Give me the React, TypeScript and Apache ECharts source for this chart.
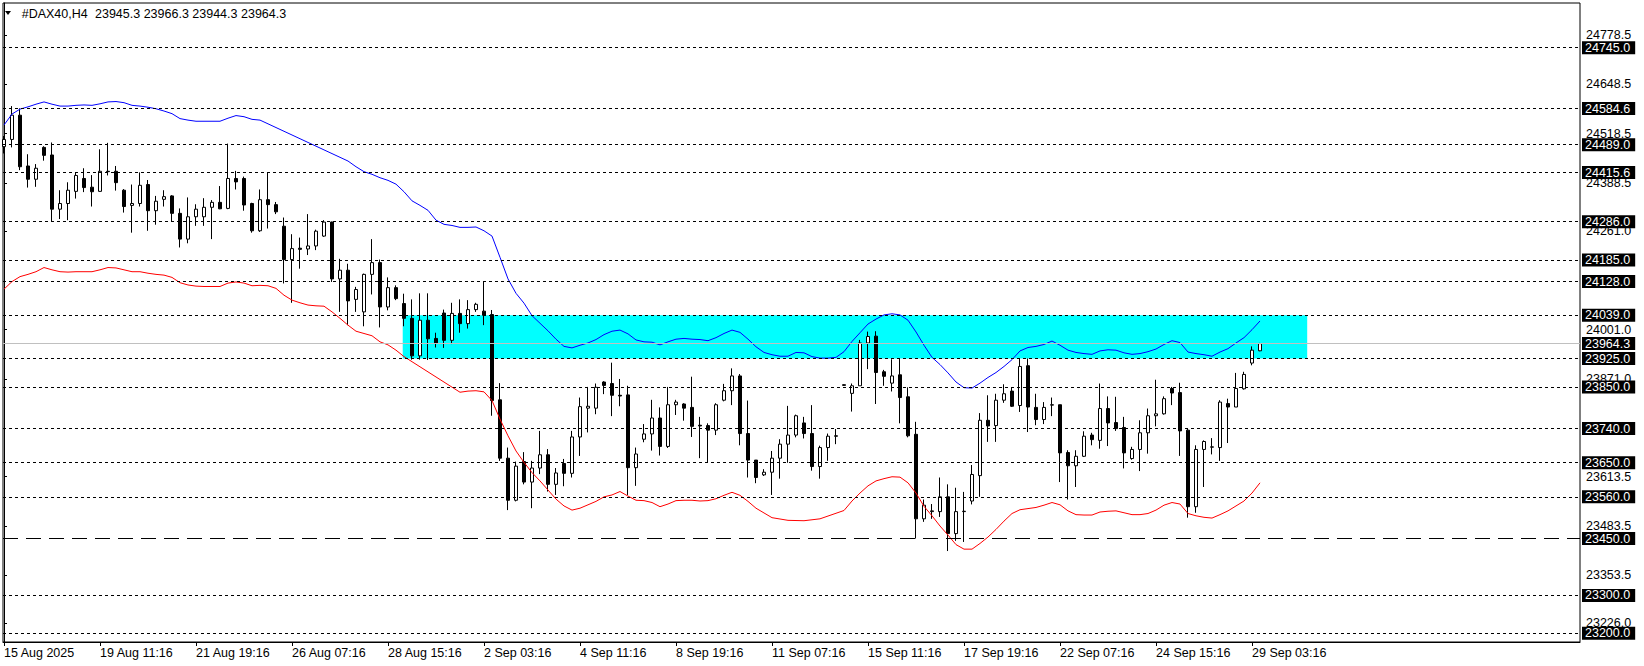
import React, { useEffect, useRef } from "react";
import * as echarts from "echarts";

const symbolName = "#DAX40,H4";

// OHLC of the H4 candles, oldest first (index 0 = 15 Aug 2025)
const opens = [24484,24503,24567,24433,24398,24482,24462,24319,24334,24366,
24400,24377,24366,24419,24419,24369,24329,24334,24384,24315,
24345,24354,24308,24240,24299,24299,24324,24337,24321,24400,
24400,24334,24262,24344,24331,24274,24186,24216,24214,24222,
24248,24285,24135,24158,24081,24048,24147,24178,24061,24112,
24070,24031,23932,24026,23978,24045,23973,24044,24017,24054,
24050,24041,23816,23662,23551,23653,23599,23636,23671,23593,
23648,23622,23718,23794,23794,23863,23859,23828,23829,23637,
23712,23726,23768,23693,23803,23805,23796,23749,23748,23736,
23815,23840,23879,23727,23657,23618,23625,23662,23699,23723,
23755,23727,23640,23690,23721,23854,23833,23853,23966,23984,
23890,23860,23882,23824,23725,23502,23521,23521,23560,23463,
23521,23549,23616,23762,23748,23815,23839,23801,23906,23796,
23764,23802,23803,23677,23642,23667,23723,23709,23793,23756,
23743,23661,23685,23729,23774,23779,23846,23835,23736,23534,
23685,23691,23690,23806,23797,23845,23913,23945.3];

const highs = [24512,24591,24585,24464,24438,24485,24495,24369,24390,24417,
24427,24409,24477,24494,24433,24372,24384,24416,24396,24354,
24369,24356,24321,24350,24332,24348,24343,24380,24492,24420,
24405,24336,24371,24416,24338,24297,24253,24244,24306,24265,
24290,24286,24188,24175,24114,24149,24240,24186,24139,24118,
24096,24081,24097,24097,23993,24054,24072,24081,24079,24072,
24127,24053,23860,23690,23653,23678,23655,23734,23686,23636,
23660,23734,23822,23850,23859,23865,23914,23871,23853,23690,
23752,23816,23796,23850,23816,23807,23877,23771,23754,23807,
23858,23899,23884,23814,23657,23633,23681,23712,23800,23777,
23771,23802,23695,23727,23739,23857,23859,23974,23996,23997,
23895,23923,23926,23849,23758,23553,23541,23611,23593,23584,
23573,23644,23781,23828,23832,23857,23848,23925,23925,23832,
23810,23822,23803,23683,23683,23733,23729,23859,23825,23824,
23771,23692,23762,23793,23869,23825,23850,23861,23740,23696,
23709,23715,23815,23819,23887,23890,23957,23966.3];

const lows = [24466,24482,24422,24376,24378,24447,24286,24293,24290,24347,
24364,24326,24365,24408,24368,24310,24257,24326,24262,24278,
24326,24286,24218,24229,24275,24275,24240,24319,24319,24371,
24315,24257,24259,24268,24306,24123,24072,24162,24198,24211,
24246,24127,24048,24013,24048,24010,24094,24007,24052,24079,
24010,23922,23922,23921,23954,23953,23963,23993,24004,24048,
24013,23774,23655,23525,23548,23593,23530,23620,23574,23565,
23588,23611,23668,23730,23778,23831,23773,23799,23565,23589,
23704,23682,23669,23689,23776,23761,23718,23662,23650,23723,
23812,23802,23696,23611,23596,23615,23565,23608,23650,23717,
23714,23629,23608,23655,23699,23853,23785,23853,23897,23805,
23853,23838,23754,23717,23450,23494,23502,23507,23417,23444,
23441,23540,23560,23705,23705,23808,23797,23784,23731,23749,
23752,23773,23599,23553,23586,23665,23696,23687,23694,23734,
23635,23658,23628,23674,23746,23777,23802,23668,23505,23518,
23586,23672,23655,23702,23797,23843,23907,23944.3];

const closes = [24503,24567,24431,24398,24427,24461,24319,24334,24369,24408,
24376,24365,24419,24418,24389,24326,24334,24382,24315,24340,
24352,24308,24240,24299,24319,24324,24337,24320,24400,24391,
24330,24262,24344,24331,24312,24186,24215,24213,24222,24261,
24285,24135,24158,24077,24107,24147,24178,24061,24112,24083,
24031,23932,24026,23977,23966,23973,24044,24017,24054,24068,
24039,23814,23662,23551,23641,23599,23636,23671,23593,23623,
23622,23718,23798,23799,23849,23854,23828,23826,23637,23673,
23726,23768,23693,23803,23810,23794,23746,23747,23736,23803,
23840,23879,23727,23657,23611,23625,23662,23699,23723,23774,
23727,23640,23690,23720,23720,23856,23853,23966,23983,23888,
23878,23879,23822,23721,23502,23538,23523,23560,23463,23521,
23522,23619,23762,23747,23815,23832,23799,23904,23797,23764,
23796,23803,23676,23642,23667,23720,23711,23793,23755,23740,
23676,23685,23729,23774,23779,23819,23834,23734,23534,23685,
23706,23692,23810,23797,23846,23883,23947,23964.3];

// upper (blue) and lower (red) band, read per candle; null = not read
const upperBand = [24541,24570,24583,24589,24596,24602,24596,24591,24591,24593,
24594,24593,24597,24602,24603,24600,24593,24591,24588,24584,
24578,24571,24558,24554,24551,24551,24551,24551,24559,24566,
24563,24556,24554,null,null,null,null,null,null,null,
null,null,null,24446,24431,24418,24411,24402,24395,24385,
24365,24341,24329,24316,24290,24279,24276,24271,24271,24272,
24262,24248,24192,24135,24097,24071,24038,24018,23998,23976,
23957,23953,23960,23966,23975,23988,23997,24000,23990,23974,
23969,23968,23961,23969,23976,23978,23976,23975,23972,23980,
23991,24000,23994,23976,23956,23941,23935,23931,23931,23941,
23940,23930,23926,23926,23928,23943,23970,23993,24016,24029,
24040,24043,24040,24026,23995,23960,23928,23909,23887,23863,
23848,23847,23860,23875,23888,23904,23922,23945,23954,23957,
23962,23971,23960,23947,23941,23938,23936,23945,23948,23947,
23940,23936,23938,23943,23950,23962,23972,23967,23942,23938,
23935,23931,23942,23951,23966,23980,24001,24024];

const lowerBand = [24108,24128,24141,24147,24154,24165,24159,24154,24153,24154,
24154,24154,24159,24165,24164,24159,24154,24154,24150,24147,
24145,24139,24125,24119,24116,24115,24115,24115,24124,24127,
24124,24117,24118,24117,24110,24092,24079,24072,24066,24064,
24063,24048,24031,24013,23997,23991,23985,23969,23961,23947,
23930,null,null,null,null,null,null,23836,23839,23840,
23837,23814,23765,23721,23681,23651,23624,23602,23578,23554,
23536,23525,23530,23539,23548,23560,23565,23574,23562,23551,
23550,23545,23534,23541,23550,23551,23551,23549,23550,23555,
23564,23572,23564,23548,23530,null,23505,null,23498,null,
23497,null,23502,null,null,23524,23549,23570,23589,23602,
23608,23613,23612,23597,23570,23535,23510,23483,23459,23434,
23422,23422,23437,23454,23474,23496,23516,23526,23529,23532,
23538,23545,23539,23523,23513,23512,23512,23520,23522,23523,
23518,23513,23513,23516,23525,23538,23545,23541,23516,23510,
23506,23504,23513,23523,23536,23549,23570,23597];

// time axis
const timeTickIndex = [0, 12, 24, 36, 48, 60, 72, 84, 96, 108, 120, 132, 144, 156];
const timeLabels = ["15 Aug 2025", "19 Aug 11:16", "21 Aug 19:16", "26 Aug 07:16", "28 Aug 15:16",
  "2 Sep 03:16", "4 Sep 11:16", "8 Sep 19:16", "11 Sep 07:16", "15 Sep 11:16",
  "17 Sep 19:16", "22 Sep 07:16", "24 Sep 15:16", "29 Sep 03:16"];

// price scale
const scaleLabels = [24778.5, 24648.5, 24518.5, 24388.5, 24261.0, 24001.0, 23871.0, 23613.5, 23483.5, 23353.5, 23226.0];
const dottedLevels = [24745.0, 24584.6, 24489.0, 24415.6, 24286.0, 24185.0, 24128.0, 24039.0, 23925.0, 23850.0, 23740.0, 23650.0, 23560.0, 23300.0, 23200.0];
const dashedLevels = [23450.0];
const bidLevel = 23964.3;

// rectangle zone (candle index range, price range)
const zoneStart = 49.84;
const zoneEnd = 162.9;
const zoneTop = 24039.0;
const zoneBottom = 23925.0;

const X_MIN = -0.125;
const X_MAX = 197;
const Y_MIN = 23177;
const Y_MAX = 24863;

const FONT = "'Liberation Sans', Arial, sans-serif";

export default function App() {
  const ref = useRef<HTMLDivElement>(null);

  useEffect(() => {
    if (!ref.current) return;
    const chart = echarts.init(ref.current, undefined, { renderer: "svg" });
    const last = closes.length - 1;
    const headerValues = [opens[last], highs[last], lows[last], closes[last]].map((v) => v.toFixed(1)).join(" ");
    const candles = opens.map((o, i) => [i, o, closes[i], lows[i], highs[i]]);
    const upper = upperBand.map((v, i) => [i, v]).filter((p) => p[1] != null);
    const lower = lowerBand.map((v, i) => [i, v]).filter((p) => p[1] != null);
    const levelValues = [...dottedLevels, ...dashedLevels, bidLevel];

    const option: any = {
      animation: false,
      backgroundColor: "#ffffff",
      textStyle: { fontFamily: FONT },
      grid: {
        left: 3, top: 3, width: 1577, height: 639,
        show: true, borderColor: "#000", borderWidth: 1, backgroundColor: "#fff",
        containLabel: false, outerBoundsMode: "none",
      },
      xAxis: {
        type: "value", min: X_MIN, max: X_MAX,
        axisLine: { show: true, lineStyle: { color: "#000", width: 1 } },
        axisTick: { show: true, customValues: timeTickIndex, length: 4, lineStyle: { color: "#000" } },
        axisLabel: {
          customValues: timeTickIndex,
          formatter: (v: number) => timeLabels[timeTickIndex.indexOf(Math.round(v))] || "",
          align: "left", color: "#000", fontSize: 12.5, fontFamily: FONT, margin: 4,
        },
        splitLine: { show: false },
      },
      yAxis: [
        {
          type: "value", position: "right", min: Y_MIN, max: Y_MAX, offset: 0,
          axisLine: { show: true, lineStyle: { color: "#000", width: 1 } },
          axisTick: { show: true, customValues: scaleLabels, length: 3, lineStyle: { color: "#000" } },
          axisLabel: {
            customValues: scaleLabels,
            formatter: (v: number) => v.toFixed(1),
            color: "#000", fontSize: 12.5, fontFamily: FONT, margin: 6,
          },
          splitLine: { show: false },
        },
        {
          type: "value", position: "right", min: Y_MIN, max: Y_MAX, offset: 0,
          axisLine: { show: false }, axisTick: { show: false },
          axisLabel: {
            customValues: levelValues,
            formatter: (v: number) => v.toFixed(1),
            color: "#fff", backgroundColor: "#000", padding: [1, 5, 0, 3], lineHeight: 12,
            fontSize: 12.5, fontFamily: FONT, margin: 2,
          },
          splitLine: { show: false },
        },
      ],
      series: [
        {
          type: "candlestick",
          name: symbolName,
          data: candles,
          encode: { x: 0, y: [1, 2, 3, 4] },
          barWidth: 4,
          itemStyle: { color: "#ffffff", color0: "#000000", borderColor: "#000000", borderColor0: "#000000", borderWidth: 1 },
          markArea: {
            silent: true,
            itemStyle: { color: "#00ffff", opacity: 1 },
            data: [[{ xAxis: zoneStart, yAxis: zoneTop }, { xAxis: zoneEnd, yAxis: zoneBottom }]],
          },
          markLine: {
            silent: true,
            symbol: ["none", "none"],
            label: { show: false },
            data: [
              ...dottedLevels.map((v) => ({ yAxis: v, lineStyle: { color: "#000", type: [3, 3], width: 1 } })),
              ...dashedLevels.map((v) => ({ yAxis: v, lineStyle: { color: "#000", type: [15, 8], width: 1 } })),
              { yAxis: bidLevel, lineStyle: { color: "#c0c0c0", type: "solid", width: 1 } },
            ],
          },
        },
        {
          type: "line", name: "Upper", data: upper, showSymbol: false, symbol: "none",
          lineStyle: { color: "#0000ff", width: 1 }, itemStyle: { color: "#0000ff" }, z: 3,
        },
        {
          type: "line", name: "Lower", data: lower, showSymbol: false, symbol: "none",
          lineStyle: { color: "#ff0000", width: 1 }, itemStyle: { color: "#ff0000" }, z: 3,
        },
      ],
      graphic: [
        { type: "polygon", shape: { points: [[5, 11], [11, 11], [8, 15]] }, style: { fill: "#000" } },
        { type: "text", x: 21.7, y: 13.5, style: { text: symbolName, fontSize: 12.5, fontFamily: FONT, fill: "#000", verticalAlign: "middle" } },
        { type: "text", x: 95, y: 13.5, style: { text: headerValues, fontSize: 12.5, fontFamily: FONT, fill: "#000", verticalAlign: "middle" } },
      ],
    };
    chart.setOption(option);
    return () => chart.dispose();
  }, []);

  return (
    <div
      ref={ref}
      style={{ position: "fixed", left: 0, top: 0, width: 1644, height: 666, background: "#fff" }}
    />
  );
}
